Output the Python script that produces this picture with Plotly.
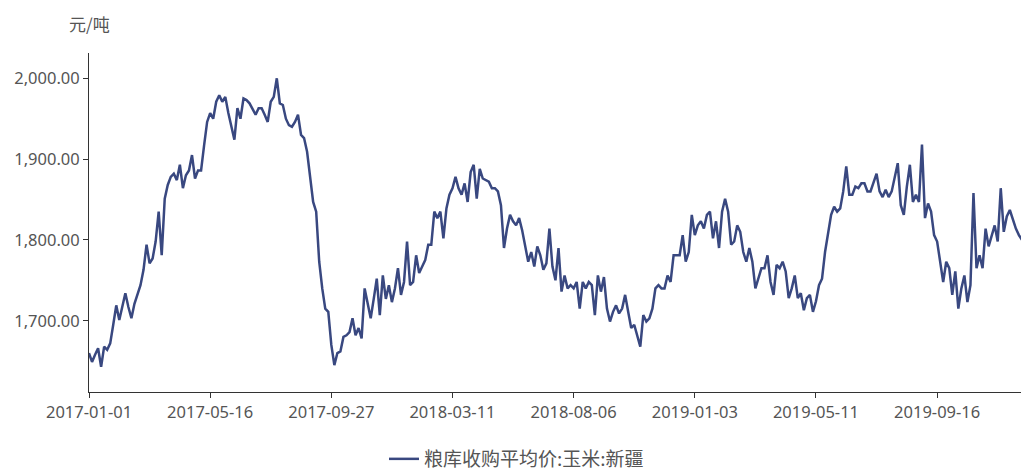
import pandas as pd
import plotly.graph_objects as go

# X-axis tick labels (category axis, 40 data points between consecutive labels)
tick_labels = ["2017-01-01", "2017-05-16", "2017-09-27", "2018-03-11",
               "2018-08-06", "2019-01-03", "2019-05-11", "2019-09-16"]

# Price values (元/吨)
price_a = [1660, 1649, 1658, 1666, 1643, 1668, 1664, 1672, 1695, 1719,
           1701, 1717, 1734, 1717, 1703, 1721, 1732, 1744, 1763, 1794,
           1771, 1777, 1798, 1835, 1781, 1851, 1868, 1878, 1882, 1874,
           1893, 1864, 1880, 1886, 1905, 1876, 1886, 1886, 1917, 1946,
           1957, 1950, 1971, 1979, 1971, 1977, 1957, 1940, 1924, 1963,
           1950, 1975, 1973, 1969, 1961, 1955, 1963, 1963, 1955, 1946,
           1971, 1977, 2000, 1969, 1967, 1950, 1942, 1940, 1946, 1955,
           1930, 1926, 1909, 1876, 1847, 1835, 1773, 1740, 1715, 1711]
price_b = [1670, 1645, 1660, 1662, 1680, 1682, 1686, 1703, 1682, 1691,
           1678, 1740, 1723, 1703, 1727, 1752, 1707, 1756, 1727, 1744,
           1723, 1740, 1765, 1732, 1748, 1798, 1744, 1748, 1781, 1759,
           1767, 1775, 1794, 1794, 1835, 1827, 1835, 1802, 1839, 1856,
           1864, 1878, 1864, 1856, 1870, 1847, 1884, 1893, 1851, 1888,
           1876, 1874, 1872, 1864, 1864, 1860, 1843, 1790, 1814, 1831,
           1823, 1818, 1827, 1812, 1790, 1773, 1785, 1767, 1792, 1781,
           1763, 1771, 1814, 1767, 1750, 1790, 1736, 1756, 1740, 1744]
price_c = [1740, 1748, 1715, 1748, 1740, 1748, 1744, 1707, 1756, 1736,
           1754, 1715, 1699, 1711, 1719, 1709, 1715, 1732, 1711, 1691,
           1695, 1680, 1668, 1707, 1699, 1703, 1715, 1740, 1744, 1740,
           1740, 1756, 1748, 1781, 1781, 1781, 1806, 1773, 1785, 1831,
           1806, 1818, 1823, 1814, 1831, 1835, 1802, 1823, 1790, 1835,
           1851, 1835, 1794, 1798, 1818, 1810, 1785, 1773, 1790, 1773,
           1740, 1752, 1765, 1765, 1781, 1748, 1732, 1769, 1765, 1773,
           1761, 1728, 1740, 1756, 1728, 1734, 1713, 1728, 1732, 1711]
price_d = [1724, 1744, 1752, 1785, 1806, 1831, 1841, 1835, 1839, 1860,
           1891, 1856, 1856, 1866, 1864, 1870, 1870, 1860, 1860, 1870,
           1882, 1860, 1853, 1862, 1853, 1860, 1880, 1895, 1843, 1831,
           1866, 1893, 1847, 1856, 1847, 1918, 1827, 1845, 1835, 1806,
           1798, 1775, 1748, 1773, 1765, 1732, 1761, 1715, 1740, 1756,
           1723, 1744, 1858, 1765, 1781, 1765, 1814, 1792, 1806, 1818,
           1798, 1864, 1810, 1829, 1837, 1825, 1814, 1806, 1800, 1814,
           1822]

prices = price_a + price_b + price_c + price_d

# Category dates: 40 steps between each pair of labelled dates
per_gap = 40
dates = []
tick_ts = [pd.Timestamp(t) for t in tick_labels]
for a, b in zip(tick_ts[:-1], tick_ts[1:]):
    step = (b - a) / per_gap
    for k in range(per_gap):
        dates.append((a + step * k).strftime("%Y-%m-%d"))
last_step = (tick_ts[-1] - tick_ts[-2]) / per_gap
remaining = len(prices) - len(dates)
for k in range(remaining):
    dates.append((tick_ts[-1] + last_step * k).strftime("%Y-%m-%d"))

font_family = "Noto Sans, Noto Sans CJK SC, sans-serif"
cjk_family = "Noto Sans CJK SC, sans-serif"
text_color = "#555555"
axis_color = "#333333"
line_color = "rgb(57,72,128)"

# The page body adds an 8px offset, so the figure is sized to fit the window
fig_w, fig_h = 1021, 462

fig = go.Figure()
fig.add_trace(go.Scatter(
    x=dates, y=prices, mode="lines",
    name="粮库收购平均价:玉米:新疆",
    line=dict(color=line_color, width=2.5),
))

fig.update_layout(
    width=fig_w, height=fig_h,
    margin=dict(l=81, r=1, t=45, b=78, autoexpand=False),
    paper_bgcolor="white", plot_bgcolor="white",
    font=dict(family=font_family, size=16, color=text_color),
    showlegend=True,
    legend=dict(orientation="h", xref="container", yref="container",
                x=376 / fig_w, xanchor="left", y=1 - 451 / fig_h,
                yanchor="middle", font=dict(family=cjk_family, size=19,
                                            color=text_color),
                itemwidth=30),
    xaxis=dict(
        type="category", range=[0, len(dates) - 1],
        tickmode="array", tickvals=tick_labels, ticktext=tick_labels,
        showgrid=False, zeroline=False, automargin=False,
        showline=True, linecolor=axis_color, linewidth=1,
        ticks="outside", ticklen=5, tickcolor=axis_color,
        tickfont=dict(size=16.5, color=text_color),
    ),
    yaxis=dict(
        range=[1611.8, 2031.3],
        tickvals=[1700, 1800, 1900, 2000], tickformat=",.2f",
        showgrid=False, zeroline=False, automargin=False,
        showline=True, linecolor=axis_color, linewidth=1,
        ticks="outside", ticklen=5, tickcolor=axis_color,
        tickfont=dict(size=16.5, color=text_color),
    ),
    annotations=[dict(text="元/吨", xref="paper", yref="paper",
                      x=0, y=1, yshift=30, xanchor="center", yanchor="middle",
                      showarrow=False,
                      font=dict(family=cjk_family, size=17, color=text_color))],
)

fig.write_html("out.html")
